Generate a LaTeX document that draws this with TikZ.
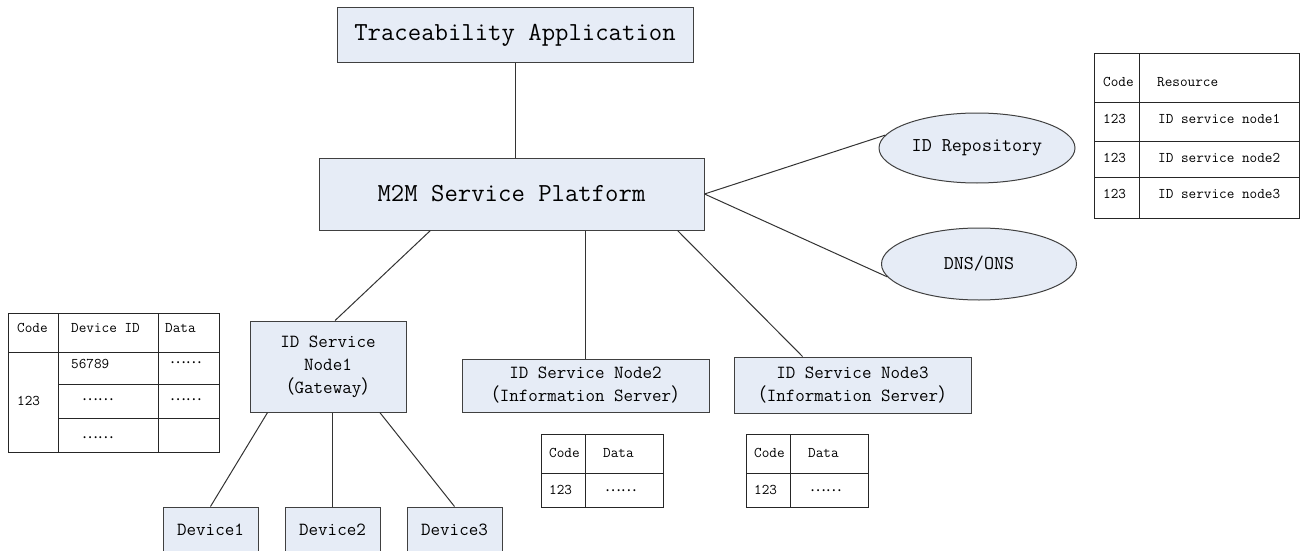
\documentclass[tikz,border=0pt]{standalone}
\usepackage{fontspec}
\usepackage{xcolor}
\usepackage{tikz}
\usetikzlibrary{positioning,calc,shapes.geometric}
\newfontfamily\cjk{Noto Sans CJK SC}
\definecolor{boxfill}{RGB}{230,236,246}
\definecolor{boxline}{RGB}{64,64,64}
\tikzset{
  box/.style  ={draw=boxline, fill=boxfill, line width=1pt, align=center, inner sep=0pt, font=\ttfamily\fontsize{18.5}{23}\selectfont},
  big/.style  ={box, font=\ttfamily\fontsize{26}{30}\selectfont},
  oval/.style ={ellipse, draw=boxline, fill=boxfill, line width=1pt, inner sep=0pt, font=\ttfamily\fontsize{19.5}{23}\selectfont},
  cell/.style ={anchor=base west, inner sep=0pt, font=\ttfamily\fontsize{14.8}{17}\selectfont},
  dots/.style ={anchor=west, inner sep=0pt, font=\cjk\fontsize{14.8}{17}\selectfont},
  grid/.style ={line width=1pt, draw=black!85},
  link/.style ={line width=1pt, draw=black!80},
}

\begin{document}
\begin{tikzpicture}[x=1pt, y=-1pt]
  \useasboundingbox (0,0) rectangle (1301,551);
  % --- platform and application ---
  \node[big, minimum width=356pt, minimum height=55pt] (trace) at (515,35.5) {Traceability Application};
  \node[big, minimum width=385pt, minimum height=72pt] (m2m) at (511.5,194) {M2M Service Platform};
  \node[oval, minimum width=196pt, minimum height=70pt] (idrepo) at (977,148) {ID Repository};
  \node[oval, minimum width=195pt, minimum height=72pt] (dns) at (979,264) {DNS/ONS};
  % --- service nodes ---
  \node[box, minimum width=156pt, minimum height=91pt] (node1) at (328,366.5) {ID Service\\Node1\\{\cjk （}Gateway{\cjk ）}};
  \node[box, minimum width=247pt, minimum height=53pt] (node2) at (585.5,385.5) {ID Service Node2\\{\cjk （}Information Server{\cjk ）}};
  \node[box, minimum width=237pt, minimum height=56pt] (node3) at (852.5,385) {ID Service Node3\\{\cjk （}Information Server{\cjk ）}};
  % --- devices ---
  \foreach \i/\x in {1/210.5,2/332.5,3/454.5}
    \node[box, minimum width=95pt, minimum height=46pt] (dev\i) at (\x,530) {Device\i};

  % --- connectors ---
  \draw[link] (trace.south) -- (trace.south |- m2m.north);
  \draw[link] ($(m2m.south west)!.29!(m2m.south east)$) -- ($(node1.north west)!.545!(node1.north east)$);
  \draw[link] (node2.north |- m2m.south) -- (node2.north);
  \draw[link] ($(m2m.south west)!.93!(m2m.south east)$) -- ($(node3.north west)!.29!(node3.north east)$);
  \draw[link] (m2m.east) -- (idrepo.172);
  \draw[link] (m2m.east) -- (dns.188);
  \draw[link] ($(node1.south west)!.115!(node1.south east)$) -- (dev1.north);
  \draw[link] (dev2.north |- node1.south) -- (dev2.north);
  \draw[link] ($(node1.south west)!.83!(node1.south east)$) -- (dev3.north);

  % --- gateway table ---
  \begin{scope}[shift={(8,313)}]
    \draw[grid] (0,0) rectangle (211,139);
    \draw[grid] (50,0) -- (50,139) (150,0) -- (150,139) (0,39) -- (211,39);
    \draw[grid] (50,71) -- (211,71) (50,105) -- (211,105);
    \node[cell] (lcode) at (9,19) {Code};
    \node[cell] (ldev) at (63,19) {Device ID};
    \node[cell] (ldata) at (157,19) {Data};
    \node[cell] (lnum) at (9,92) {123};
    \node[cell] (lid) at (63,55) {56789};
    \node[dots] (ld1) at (162,50) {……};
    \node[dots] (ld2) at (74,87) {……};
    \node[dots] (ld3) at (162,87) {……};
    \node[dots] (ld4) at (74,125) {……};
  \end{scope}
  % --- resolution table ---
  \begin{scope}[shift={(1094,54)}]
    \draw[grid] (0,0) rectangle (205,164);
    \draw[grid] (45,0) -- (45,164) (0,48) -- (205,48) (0,87) -- (205,87) (0,123) -- (205,123);
    \node[cell] (rcode) at (9,32) {Code};
    \node[cell] (rres) at (63,32) {Resource};
    \foreach \i/\y in {1/69,2/108,3/144} {
      \node[cell] (rc\i) at (9,\y) {123};
      \node[cell] (rr\i) at (64,\y) {ID service node\i};
    }
  \end{scope}
  % --- server tables ---
  \foreach \s/\dx in {sa/541,sb/746} {
    \begin{scope}[shift={(\dx,434)}]
      \draw[grid] (0,0) rectangle (122,73);
      \draw[grid] (44,0) -- (44,73) (0,39) -- (122,39);
      \node[cell] (\s-code) at (8,23) {Code};
      \node[cell] (\s-data) at (62,23) {Data};
      \node[cell] (\s-num) at (8,60) {123};
      \node[dots] (\s-dots) at (64,57) {……};
    \end{scope}
  }
\end{tikzpicture}
\end{document}
